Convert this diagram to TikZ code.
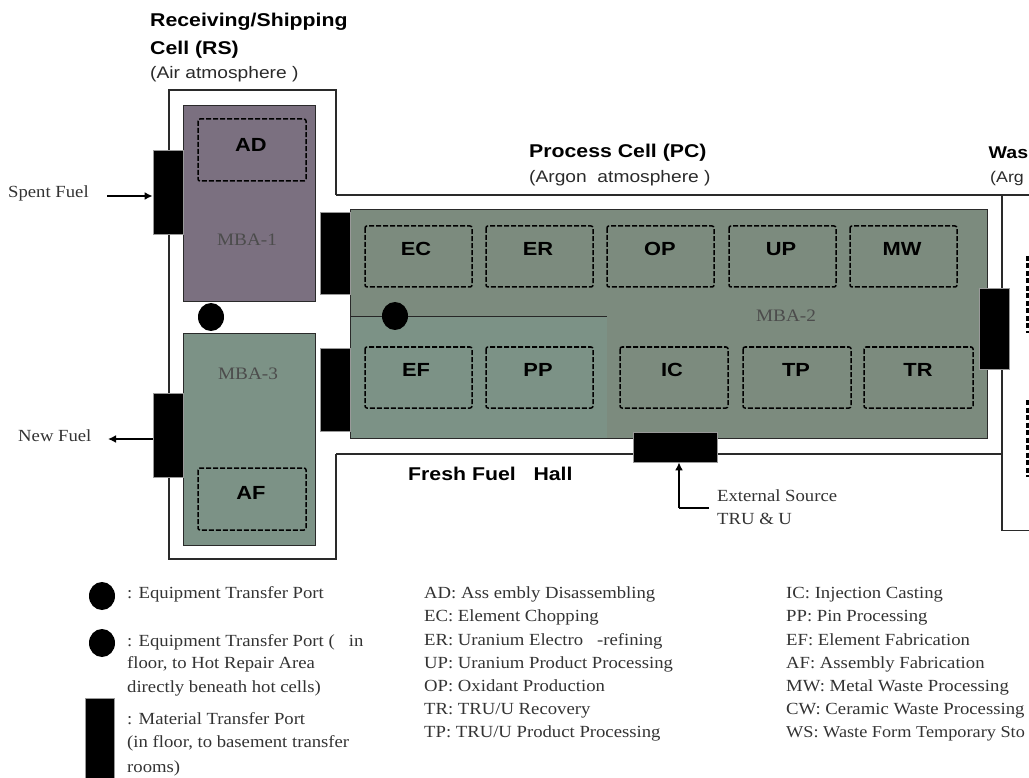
\documentclass[tikz,border=0pt]{standalone}
\usepackage{fontspec}
\usetikzlibrary{arrows.meta,shapes.geometric}
\setmainfont[FakeStretch=1.1]{Liberation Serif}
\newfontfamily\hv[FakeStretch=1.15]{Liberation Sans}
\definecolor{mbaA}{HTML}{7B7080}
\definecolor{mbaB}{HTML}{7C9286}
\definecolor{mbaC}{HTML}{7C8B7E}
\definecolor{ink}{HTML}{2A2A2A}
\definecolor{serifink}{HTML}{333333}
\tikzset{
  wall/.style={draw=ink,line width=1.1pt},
  area/.style={draw=ink,line width=0.9pt},
  inbox/.style={draw=black,line width=1.5pt,dash pattern=on 5pt off 2pt,rounded corners=2pt},
  code/.style={font=\hv\bfseries\fontsize{19}{21}\selectfont,text=black,inner sep=0pt},
  port/.style={fill=black,draw=black!40,line width=0.8pt,inner sep=0pt},
  dot/.style={fill=black,draw=none,ellipse,minimum width=26pt,minimum height=28pt,inner sep=0pt},
  head/.style={font=\hv\bfseries\fontsize{18.5}{20}\selectfont,anchor=west,text=black,inner sep=0pt,text height=16pt,text depth=3pt},
  sub/.style={font=\hv\fontsize{16.7}{18}\selectfont,anchor=west,text=ink,inner sep=0pt,text height=15pt,text depth=3pt},
  lbl/.style={font=\fontsize{17}{19}\selectfont,anchor=west,text=serifink,inner sep=0pt,text height=14pt,text depth=3pt},
  mba/.style={font=\fontsize{17.5}{19}\selectfont,text=black!70,inner sep=0pt},
  flow/.style={draw=black,line width=1.7pt,-{Latex[length=8pt,width=8pt]}}
}
\begin{document}
\begin{tikzpicture}[x=1pt,y=-1pt]
\useasboundingbox (0,0) rectangle (1029,778);
% walls
\draw[wall] (336,195) -- (336,90) -- (169,90) -- (169,559) -- (336,559) -- (336,454);
\draw[wall] (336,195) -- (1029,195);
\draw[wall] (336,454) -- (1002,454);
\draw[wall] (1002,195) -- (1002,530.5) -- (1029,530.5);
% MBA areas
\fill[mbaC] (350,209) rectangle (987,438);
\fill[mbaB] (350,317) rectangle (607,438);
\draw[area] (350,209) rectangle (987,438);
\draw[black!85,line width=1pt] (350,317) -- (607,317);
\draw[area,fill=mbaA] (183,105) rectangle (315,301);
\draw[area,fill=mbaB] (183,333) rectangle (315,545);
% inner boxes
\foreach \a/\b/\c/\d in {198/119/306/181, 198/468/306/530,
  365/226/472/287, 486/226/593/287, 607/226/714/287, 729/226/836/287, 850/226/957/287,
  365/347/472/408, 486/347/593/408, 620/347/728/408, 743/347/851/408, 864/347/973/408}
  \draw[inbox] (\a,\b) rectangle (\c,\d);
% clipped boxes at the right edge
\begin{scope}
\clip (1020,240) rectangle (1029,490);
\draw[black,line width=3pt,dash pattern=on 5pt off 2.5pt] (1027.5,256) -- (1027.5,333);
\draw[black,line width=3pt,dash pattern=on 5pt off 2.5pt] (1027.5,400) -- (1027.5,477);
\end{scope}
% box codes
\node[code] (adT) at (251,145) {AD};
\node[code] (afT) at (251,493) {AF};
\node[code] (ecT) at (416,249) {EC};
\node[code] (erT) at (538,249) {ER};
\node[code] (opT) at (660,249) {OP};
\node[code] (upT) at (781,249) {UP};
\node[code] (mwT) at (902,249) {MW};
\node[code] (efT) at (416,370) {EF};
\node[code] (ppT) at (538,370) {PP};
\node[code] (icT) at (672,370) {IC};
\node[code] (tpT) at (796,370) {TP};
\node[code] (trT) at (918,370) {TR};
% MBA labels
\node[mba] (m1) at (247,240) {MBA-1};
\node[mba] (m3) at (248,374) {MBA-3};
\node[mba] (m2) at (786,316) {MBA-2};
% ports
\node[port,minimum width=30pt,minimum height=84pt] (pSpent) at (168,192) {};
\node[port,minimum width=30pt,minimum height=84pt] (pNew) at (168,435) {};
\node[port,minimum width=30pt,minimum height=82pt] (pA) at (335,253) {};
\node[port,minimum width=30pt,minimum height=83pt] (pB) at (335,390) {};
\node[port,minimum width=30pt,minimum height=81pt] (pC) at (994,328.5) {};
\node[port,minimum width=84pt,minimum height=30pt] (pD) at (675,447) {};
% dots
\node[dot] (d1) at (211,317) {};
\node[dot] (d2) at (395,316) {};
% titles
\node[head] (t1) at (150,20) {Receiving/Shipping};
\node[head] (t2) at (150,48) {Cell (RS)};
\node[sub] (t3) at (150,73) {(Air atmosphere )};
\node[head] (t4) at (529,151) {Process Cell (PC)};
\node[sub] (t5) at (529,177) {(Argon\ \ atmosphere )};
\node[head,font=\hv\bfseries\fontsize{17}{19}\selectfont] (t6) at (988.5,152) {Was};
\node[sub,font=\hv\fontsize{15.5}{18}\selectfont] (t7) at (990,177) {(Arg};
\node[head] (t8) at (408,474) {Fresh Fuel\ \ \ Hall};
% flows
\node[lbl] (spent) at (8,192) {Spent Fuel};
\node[lbl] (new) at (18,436) {New Fuel};
\coordinate (sp0) at (107,196);
\coordinate (nw0) at (108,439);
\draw[flow] (sp0) -- (sp0 -| pSpent.west);
\draw[flow] (nw0 -| pNew.west) -- (nw0);
\node[lbl] (ext1) at (717,496) {External Source};
\node[lbl] (ext2) at (717,519) {TRU \& U};
\coordinate (ex0) at (709,508);
\coordinate (ex1) at (679,508);
\draw[draw=black,line width=1.2pt] (ex0) -- (ex1);
\draw[flow] (ex1) -- (ex1 |- pD.south);
% legend
\node[dot] (k1) at (102,596) {};
\node[dot] (k2) at (102,643) {};
\node[port,minimum width=29pt,minimum height=80pt,anchor=north west] (k3) at (85,698) {};
\node[lbl] (a1) at (127,593) {: Equipment Transfer Port};
\node[lbl] (a2) at (127,641) {: Equipment Transfer Port (\ \ \ in};
\node[lbl] (a3) at (127,663) {floor, to Hot Repair Area};
\node[lbl] (a4) at (127,687) {directly beneath hot cells)};
\node[lbl] (a5) at (127,719) {: Material Transfer Port};
\node[lbl] (a6) at (127,742) {(in floor, to basement transfer};
\node[lbl] (a7) at (127,767) {rooms)};
\node[lbl] (b1) at (424,593) {AD: Ass embly Disassembling};
\node[lbl] (b2) at (424,616) {EC: Element Chopping};
\node[lbl] (b3) at (424,640) {ER: Uranium Electro\ \ \ -refining};
\node[lbl] (b4) at (424,663) {UP: Uranium Product Processing};
\node[lbl] (b5) at (424,686) {OP: Oxidant Production};
\node[lbl] (b6) at (424,709) {TR: TRU/U Recovery};
\node[lbl] (b7) at (424,732) {TP: TRU/U Product Processing};
\node[lbl] (c1) at (786,593) {IC: Injection Casting};
\node[lbl] (c2) at (786,616) {PP: Pin Processing};
\node[lbl] (c3) at (786,640) {EF: Element Fabrication};
\node[lbl] (c4) at (786,663) {AF: Assembly Fabrication};
\node[lbl] (c5) at (786,686) {MW: Metal Waste Processing};
\node[lbl] (c6) at (786,709) {CW: Ceramic Waste Processing};
\node[lbl,font=\fontsize{16.6}{19}\selectfont] (c7) at (786,732) {WS: Waste Form Temporary Sto};
\end{tikzpicture}
\end{document}
